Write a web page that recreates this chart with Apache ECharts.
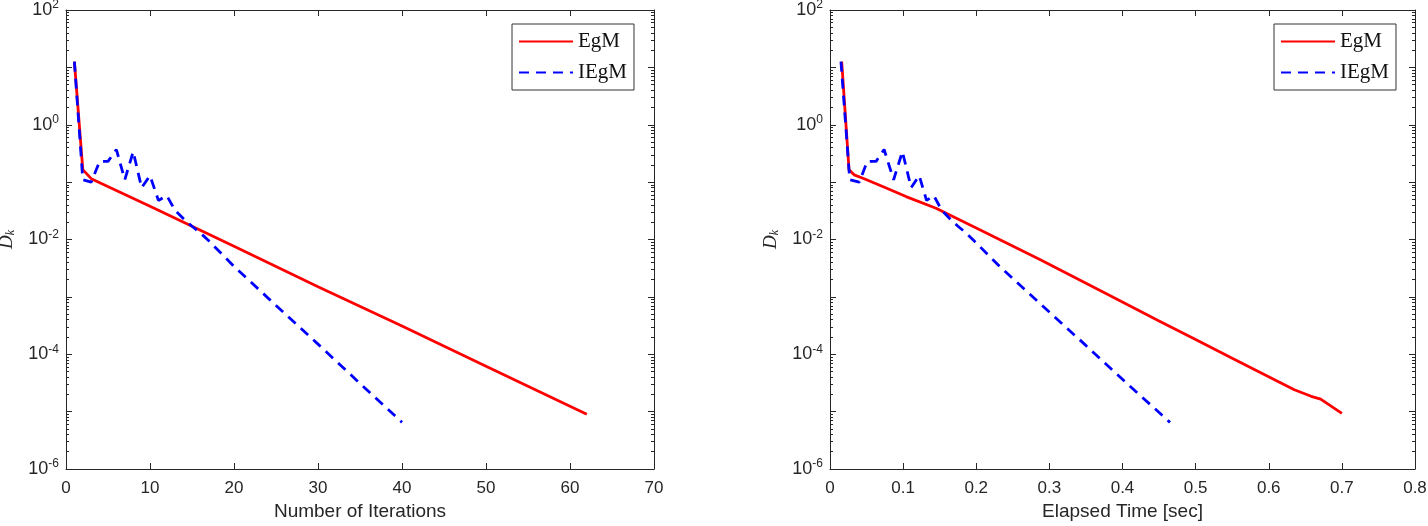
<!DOCTYPE html>
<html><head><meta charset="utf-8">
<script src="https://cdn.jsdelivr.net/npm/echarts@6/dist/echarts.min.js"></script>
<style>html,body{margin:0;padding:0;background:#fff}#c{width:1428px;height:526px}</style>
</head><body><div id="c"></div>
<script>
// ---- data ----
const seriesNames = ['EgM', 'IEgM'];
// Left panel: D_k vs number of iterations
const egmIter = [1, 2, 3, 10, 20, 30, 40, 50, 62];
const egmIterVal = [12.6, 0.165, 0.115, 0.038, 0.0076, 0.0015, 3.1e-4, 6.2e-5, 9e-6];
const iegmIter = [1, 2, 3, 4, 5, 6, 7, 8, 9, 10, 11, 12, 13, 14, 15, 16, 17, 20, 25, 30, 35, 40];
const iegmVal = [12.6, 0.11, 0.1, 0.23, 0.23, 0.37, 0.11, 0.34, 0.08, 0.13, 0.048, 0.058, 0.032, 0.023, 0.017, 0.013, 0.0095, 0.0034, 7.1e-4, 1.5e-4, 3.1e-5, 6.5e-6];
// Right panel: D_k vs elapsed time [sec]
const egmTime = [0.016, 0.026, 0.033, 0.045, 0.072, 0.104, 0.145, 0.2, 0.287, 0.38, 0.45, 0.5, 0.55, 0.612, 0.635, 0.658, 0.671, 0.70];
const egmTimeVal = [12.6, 0.165, 0.134, 0.117, 0.084, 0.056, 0.035, 0.0158, 0.0045, 0.0011, 3.8e-4, 1.8e-4, 8.5e-5, 3.4e-5, 2.4e-5, 1.85e-5, 1.65e-5, 9.3e-6];
const iegmTime = [0.015, 0.027, 0.040, 0.051, 0.063, 0.074, 0.087, 0.099, 0.111, 0.122, 0.132, 0.142, 0.153, 0.164, 0.175, 0.186, 0.197, 0.232, 0.29, 0.348, 0.406, 0.465];
// axes
const xIterRange = [0, 70, 10];
const xTimeRange = [0, 0.8, 0.1];
const yRange = [1e-6, 100];
const xNames = ['Number of Iterations', 'Elapsed Time [sec]'];

const AX = '#262626';
const FONT = '"Liberation Sans", Arial, Helvetica, sans-serif';
const SERIF = '"Liberation Serif", "DejaVu Serif", serif';
const zip = (a, b) => a.map((v, i) => [v, b[i]]);

const grids = [
  {left: 66, width: 588, top: 10, bottom: 57},
  {left: 830, width: 585, top: 10, bottom: 57}
];

function xAx(g, r, name, top) {
  return {
    type: 'value', gridIndex: g, min: r[0], max: r[1], interval: r[2],
    position: top ? 'top' : 'bottom',
    name: top ? '' : name, nameLocation: 'middle', nameGap: 33,
    nameTextStyle: {fontFamily: FONT, fontSize: 19, color: AX},
    axisLine: {show: true, onZero: false, lineStyle: {color: AX, width: 1}},
    axisTick: {show: true, inside: true, length: 6, lineStyle: {color: AX}},
    axisLabel: {show: !top, fontFamily: FONT, fontSize: 17, color: AX, margin: 11,
      formatter: v => String(+v.toFixed(2))},
    splitLine: {show: false}
  };
}
function yAx(g, right) {
  return {
    type: 'log', logBase: 10, gridIndex: g, min: yRange[0], max: yRange[1],
    position: right ? 'right' : 'left', splitNumber: 8,
    name: right ? '' : '{d|D}{k|k}', nameLocation: 'middle', nameGap: 49, nameRotate: 90,
    nameTextStyle: {rich: {
      d: {fontFamily: SERIF, fontStyle: 'italic', fontSize: 19, color: AX},
      k: {fontFamily: SERIF, fontStyle: 'italic', fontSize: 12, color: AX, padding: [9, 0, 0, 0]}
    }},
    axisLine: {show: true, onZero: false, lineStyle: {color: AX, width: 1}},
    axisTick: {show: true, inside: true, length: 6, lineStyle: {color: AX}},
    minorTick: {show: true, splitNumber: 9, length: 3, lineStyle: {color: AX}},
    axisLabel: {show: !right, margin: 7,
      formatter: v => {
        const e = Math.round(Math.log10(v));
        if (e % 2 !== 0) return '';
        return '{b|10}{s|' + e + '}';
      },
      rich: {
        b: {fontFamily: FONT, fontSize: 18, color: AX},
        s: {fontFamily: FONT, fontSize: 12, color: AX, padding: [0, 0, 10, 0]}
      }
    },
    splitLine: {show: false}
  };
}

const lineRed = {color: '#ff0000', width: 2.8};
const lineBlue = {color: '#0000ff', width: 2.8, type: [10, 7]};

function mk(name, data, xi, yi, style) {
  return {name, type: 'line', data, xAxisIndex: xi, yAxisIndex: yi,
    symbol: 'none', showSymbol: false, lineStyle: style, itemStyle: {color: style.color},
    animation: false, silent: true, clip: true};
}

function legend(left) {
  return {
    show: true, orient: 'vertical', left: left, top: 24, itemWidth: 54, itemHeight: 14, itemGap: 10,
    padding: [7, 7, 7, 6], borderColor: '#333', borderWidth: 1, backgroundColor: '#fff',
    itemStyle: {opacity: 0},
    textStyle: {fontFamily: SERIF, fontSize: 21, color: '#111'},
    data: seriesNames.slice()
  };
}

const option = {
  backgroundColor: '#fff',
  animation: false,
  grid: grids.map(g => Object.assign({outerBoundsMode: 'none', containLabel: false}, g)),
  legend: [legend(512), legend(1274)],
  xAxis: [
    xAx(0, xIterRange, xNames[0], false), xAx(0, xIterRange, '', true),
    xAx(1, xTimeRange, xNames[1], false), xAx(1, xTimeRange, '', true)
  ],
  yAxis: [yAx(0, false), yAx(0, true), yAx(1, false), yAx(1, true)],
  series: [
    mk('EgM', zip(egmIter, egmIterVal), 0, 0, lineRed),
    mk('IEgM', zip(iegmIter, iegmVal), 0, 0, lineBlue),
    mk('EgM', zip(egmTime, egmTimeVal), 2, 2, lineRed),
    mk('IEgM', zip(iegmTime, iegmVal), 2, 2, lineBlue)
  ]
};
const chart = echarts.init(document.getElementById('c'), null, {renderer: 'canvas'});
chart.setOption(option);
</script></body></html>
